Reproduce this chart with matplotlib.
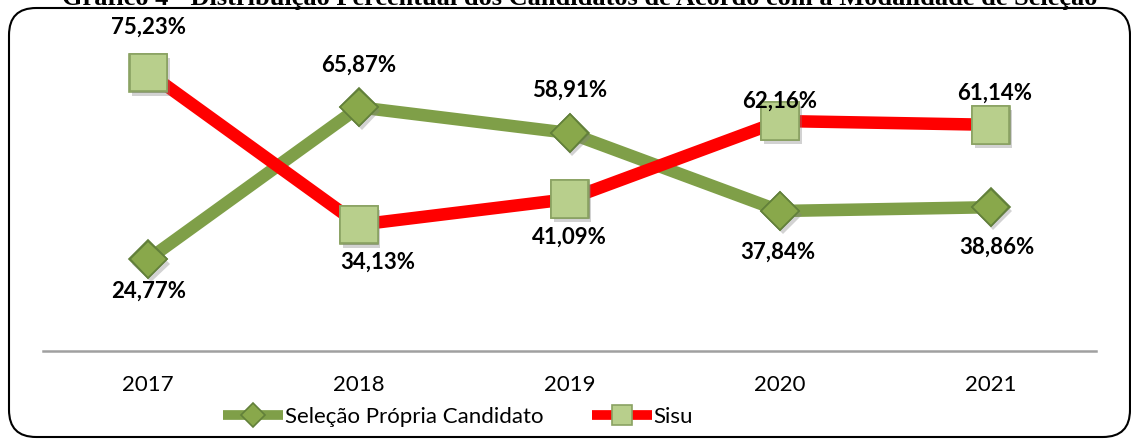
import matplotlib.pyplot as plt
from matplotlib.patches import FancyBboxPatch
import matplotlib.patheffects as pe

# Data
anos = ['2017', '2018', '2019', '2020', '2021']
selecao_propria = [24.77, 65.87, 58.91, 37.84, 38.86]
sisu = [75.23, 34.13, 41.09, 62.16, 61.14]

# label offsets (pixels) relative to the marker
off_selecao = [(0, -32), (0, 42), (0, 43), (-2, -41), (6, -40)]
off_sisu = [(0, 45), (19, -37), (0, -38), (0, 20), (4, 32)]

plt.rcParams['font.family'] = ['Lato', 'DejaVu Sans']

W, H = 1131, 440
fig = plt.figure(figsize=(W / 100, H / 100), dpi=100)

# rounded border of the chart area
box = FancyBboxPatch((9 / W, 1 - 437 / H), 1121 / W, 429 / H,
                     boxstyle='round,pad=0,rounding_size=0.024',
                     transform=fig.transFigure, facecolor='none',
                     edgecolor='black', linewidth=1.5, mutation_aspect=W / H)
fig.patches.append(box)

# title, cut at the top of the image (as in the source)
fig.text(580 / W, 1 - 5 / H,
         'Gráfico 4 - Distribuição Percentual dos Candidatos de Acordo com a Modalidade de Seleção',
         ha='center', va='baseline', fontsize=19, fontweight='bold',
         family='Liberation Serif')

ax = fig.add_axes([43 / W, 1 - 351 / H, 1053 / W, 333 / H])
x = range(len(anos))

green = '#7f9f48'
red = '#ff0000'
shadow = [pe.SimplePatchShadow(offset=(2, -3), shadow_rgbFace='gray', alpha=0.35), pe.Normal()]

ax.plot(x, selecao_propria, color=green, linewidth=9, solid_capstyle='butt',
        solid_joinstyle='miter', zorder=2, label='Seleção Própria Candidato',
        marker='D', markersize=19, markerfacecolor='#89a84b',
        markeredgecolor='#62803a', markeredgewidth=1.2)
ax.plot(x, sisu, color=red, linewidth=9, solid_capstyle='butt',
        solid_joinstyle='miter', zorder=3, label='Sisu',
        marker='s', markersize=27, markerfacecolor='#b8cf8c',
        markeredgecolor='#8aa262', markeredgewidth=1.2)

# redraw markers on top with a soft shadow
ax.plot(x, selecao_propria, linestyle='none', marker='D', markersize=19,
        markerfacecolor='#89a84b', markeredgecolor='#62803a',
        markeredgewidth=1.2, zorder=4, path_effects=shadow)
ax.plot(x, sisu, linestyle='none', marker='s', markersize=27,
        markerfacecolor='#b8cf8c', markeredgecolor='#8aa262',
        markeredgewidth=1.2, zorder=5, path_effects=shadow)

for i in x:
    ax.annotate(f'{selecao_propria[i]:.2f}%'.replace('.', ','), (i, selecao_propria[i]),
                xytext=off_selecao[i], textcoords='offset pixels',
                ha='center', va='center', fontsize=16, fontweight='bold', zorder=6)
    ax.annotate(f'{sisu[i]:.2f}%'.replace('.', ','), (i, sisu[i]),
                xytext=off_sisu[i], textcoords='offset pixels',
                ha='center', va='center', fontsize=16, fontweight='bold', zorder=6)

ax.set_xlim(-0.5, len(anos) - 0.5)
ax.set_ylim(0, 90)
ax.set_xticks(list(x))
ax.set_xticklabels(anos, fontsize=16)
ax.tick_params(axis='x', length=0, pad=17)
ax.set_yticks([])
for s in ['top', 'left', 'right']:
    ax.spines[s].set_visible(False)
ax.spines['bottom'].set_color('#a0a0a0')
ax.spines['bottom'].set_linewidth(1.8)
ax.patch.set_alpha(0)

leg = fig.legend(loc='center', bbox_to_anchor=(458 / W, 1 - 417 / H), ncol=2,
                 frameon=False, fontsize=16, handlelength=2.7,
                 handletextpad=0.05, columnspacing=2.2)
for h in leg.legend_handles:
    h.set_linewidth(7)
    h.set_markersize(12 if h.get_marker() == 'D' else 15)

fig.savefig('out.png', dpi=100)
